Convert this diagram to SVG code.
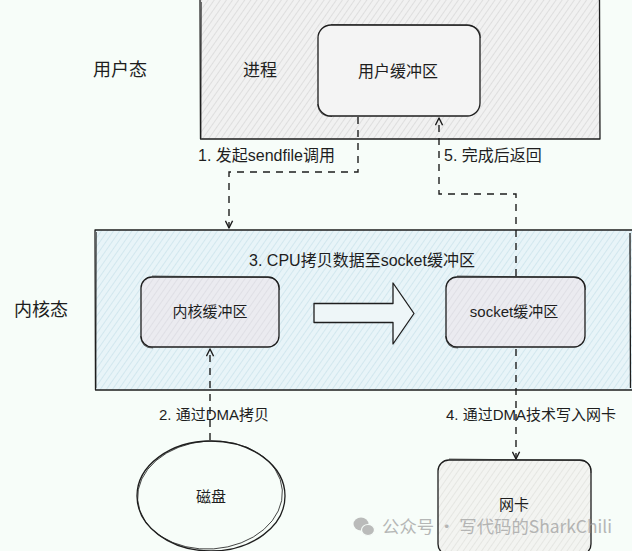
<svg xmlns="http://www.w3.org/2000/svg" width="632" height="551" viewBox="0 0 632 551">
<style>
text{font-family:"Liberation Sans","Noto Sans CJK SC",sans-serif;fill:#1e1e1e}
.edge{fill:none;stroke:#1e1e1e;stroke-width:1.4;stroke-linecap:round}
.ol{fill:none;stroke:#1e1e1e;stroke-width:1.3;stroke-linejoin:round}
.ol2{fill:none;stroke:#1e1e1e;stroke-width:0.8;stroke-linejoin:round;opacity:0.8}
.dash{fill:none;stroke:#1e1e1e;stroke-width:1.4;stroke-dasharray:7 6}
</style>
<defs>
<pattern id="hGrey" patternUnits="userSpaceOnUse" width="5" height="5" patternTransform="rotate(-55)">
<rect width="5" height="5" fill="#f1f1f1"/>
<line x1="0" y1="0.5" x2="5" y2="0.5" stroke="#d6d6d6" stroke-width="0.7"/>
</pattern>
<pattern id="hBlue" patternUnits="userSpaceOnUse" width="5" height="5" patternTransform="rotate(-55)">
<rect width="5" height="5" fill="#e8f4f8"/>
<line x1="0" y1="0.5" x2="5" y2="0.5" stroke="#c9e1ea" stroke-width="0.7"/>
</pattern>
<pattern id="hLav" patternUnits="userSpaceOnUse" width="5" height="5" patternTransform="rotate(-55)">
<rect width="5" height="5" fill="#ebebf0"/>
<line x1="0" y1="0.5" x2="5" y2="0.5" stroke="#d6d6dd" stroke-width="0.6"/>
</pattern>
<pattern id="hPale" patternUnits="userSpaceOnUse" width="5" height="5" patternTransform="rotate(-55)">
<rect width="5" height="5" fill="#f3f4f1"/>
<line x1="0" y1="0.5" x2="5" y2="0.5" stroke="#dcdcd8" stroke-width="0.6"/>
</pattern>
<marker id="arr" viewBox="0 0 10 10" refX="9" refY="5" markerWidth="9" markerHeight="9" markerUnits="userSpaceOnUse" orient="auto">
<path d="M1,1 L9,5 L1,9" fill="none" stroke="#1e1e1e" stroke-width="1.6" stroke-linejoin="round"/>
</marker>
</defs>
<rect x="0" y="0" width="632" height="551" fill="#f7fdf9"/>

<g id="label-user-mode"><text x="120" y="76" font-size="18" text-anchor="middle">用户态</text></g>
<g id="label-kernel-mode"><text x="41" y="316" font-size="18" text-anchor="middle">内核态</text></g>

<g id="user-space">
<rect x="200" y="-1" width="400" height="140" fill="url(#hGrey)"/>
<path class="ol" d="M200,-1 L200.5,139 L600,139 L599.5,-1"/>
<path class="ol2" d="M201.5,2 L201,138"/>
<text x="260" y="76" font-size="17" text-anchor="middle">进程</text>
</g>

<g id="user-buffer">
<rect x="318" y="25" width="162" height="91" rx="13" fill="#f4f4f4"/>
<rect class="ol" x="318" y="25" width="162" height="91" rx="13"/>
<path class="ol2" d="M331,24.5 L468,25.5 Q481,26 480.5,38 M317.5,104 Q318.5,117 332,116.5"/>
<text x="398" y="77" font-size="16" text-anchor="middle">用户缓冲区</text>
</g>

<g id="kernel-space">
<rect x="95" y="230" width="537" height="160" fill="url(#hBlue)"/>
<path class="ol" d="M632,230 L95,230 L95.5,390 L632,390"/>
<path class="ol2" d="M96.5,232 L96,388"/>
<path class="ol" d="M630,233 L630.5,388"/>
<text x="362" y="266" font-size="16" text-anchor="middle">3. CPU拷贝数据至socket缓冲区</text>
</g>

<g id="kernel-buffer">
<rect x="141" y="277" width="138" height="70" rx="11" fill="url(#hLav)"/>
<rect class="ol" x="141" y="277" width="138" height="70" rx="11"/>
<path class="ol2" d="M152,276 L268,277.5 Q280,278 279.5,290 M140.5,336 Q141.5,348.5 153,348"/>
<text x="210" y="317" font-size="15" text-anchor="middle">内核缓冲区</text>
</g>

<g id="copy-arrow">
<path d="M314,303.5 L393,303.5 L393,283 L414,313.5 L393,344 L393,322.5 L314,322.5 Z" fill="#eef6f8" stroke="#1e1e1e" stroke-width="1.3" stroke-linejoin="round"/>
</g>

<g id="socket-buffer">
<rect x="446" y="277" width="139" height="70" rx="11" fill="url(#hLav)"/>
<rect class="ol" x="446" y="277" width="139" height="70" rx="11"/>
<path class="ol2" d="M457,276 L574,277.5 Q586,278 585.5,290 M445.5,336 Q446.5,348.5 458,348"/>
<text x="514" y="317" font-size="15" text-anchor="middle">socket缓冲区</text>
</g>

<g id="disk">
<ellipse cx="211" cy="496" rx="74" ry="55" fill="#f7fdf9" stroke="#1e1e1e" stroke-width="1.3"/>
<ellipse cx="210" cy="495" rx="72.5" ry="54" fill="none" stroke="#1e1e1e" stroke-width="0.8" transform="rotate(-4 210 495)"/>
<text x="211" y="502" font-size="15" text-anchor="middle">磁盘</text>
</g>

<g id="nic">
<rect x="438" y="460" width="153" height="95" rx="11" fill="url(#hPale)"/>
<rect class="ol" x="438" y="460" width="153" height="95" rx="11"/>
<path class="ol2" d="M449,459 L580,460.5 Q592,461 591,473"/>
<text x="514" y="510" font-size="15" text-anchor="middle">网卡</text>
</g>

<g id="connectors">
<path class="dash" d="M358,117 V172 H229 V228" marker-end="url(#arr)"/>
<path class="dash" d="M516,276 V194 H439 V118" marker-end="url(#arr)"/>
<path class="dash" d="M210,440 V349" marker-end="url(#arr)"/>
<path class="dash" d="M516,349 V459" marker-end="url(#arr)"/>
</g>

<g id="edge-labels">
<text x="198" y="161" font-size="16">1. 发起sendfile调用</text>
<text x="444" y="161" font-size="16">5. 完成后返回</text>
<text x="159" y="420" font-size="15">2. 通过DMA拷贝</text>
<text x="446" y="420" font-size="15">4. 通过DMA技术写入网卡</text>
</g>

<g id="watermark" opacity="0.75">
<ellipse cx="361" cy="524" rx="7.5" ry="6.5" fill="#a6a6a6"/>
<ellipse cx="368" cy="530" rx="6.5" ry="5.5" fill="#a6a6a6" stroke="#f7fdf9" stroke-width="1.2"/>
<text x="382" y="533" font-size="17" textLength="230" lengthAdjust="spacingAndGlyphs" style="fill:#a0a0a0;font-family:'Noto Sans CJK SC','Noto Sans',sans-serif">公众号 · 写代码的SharkChili</text>
</g>
</svg>
